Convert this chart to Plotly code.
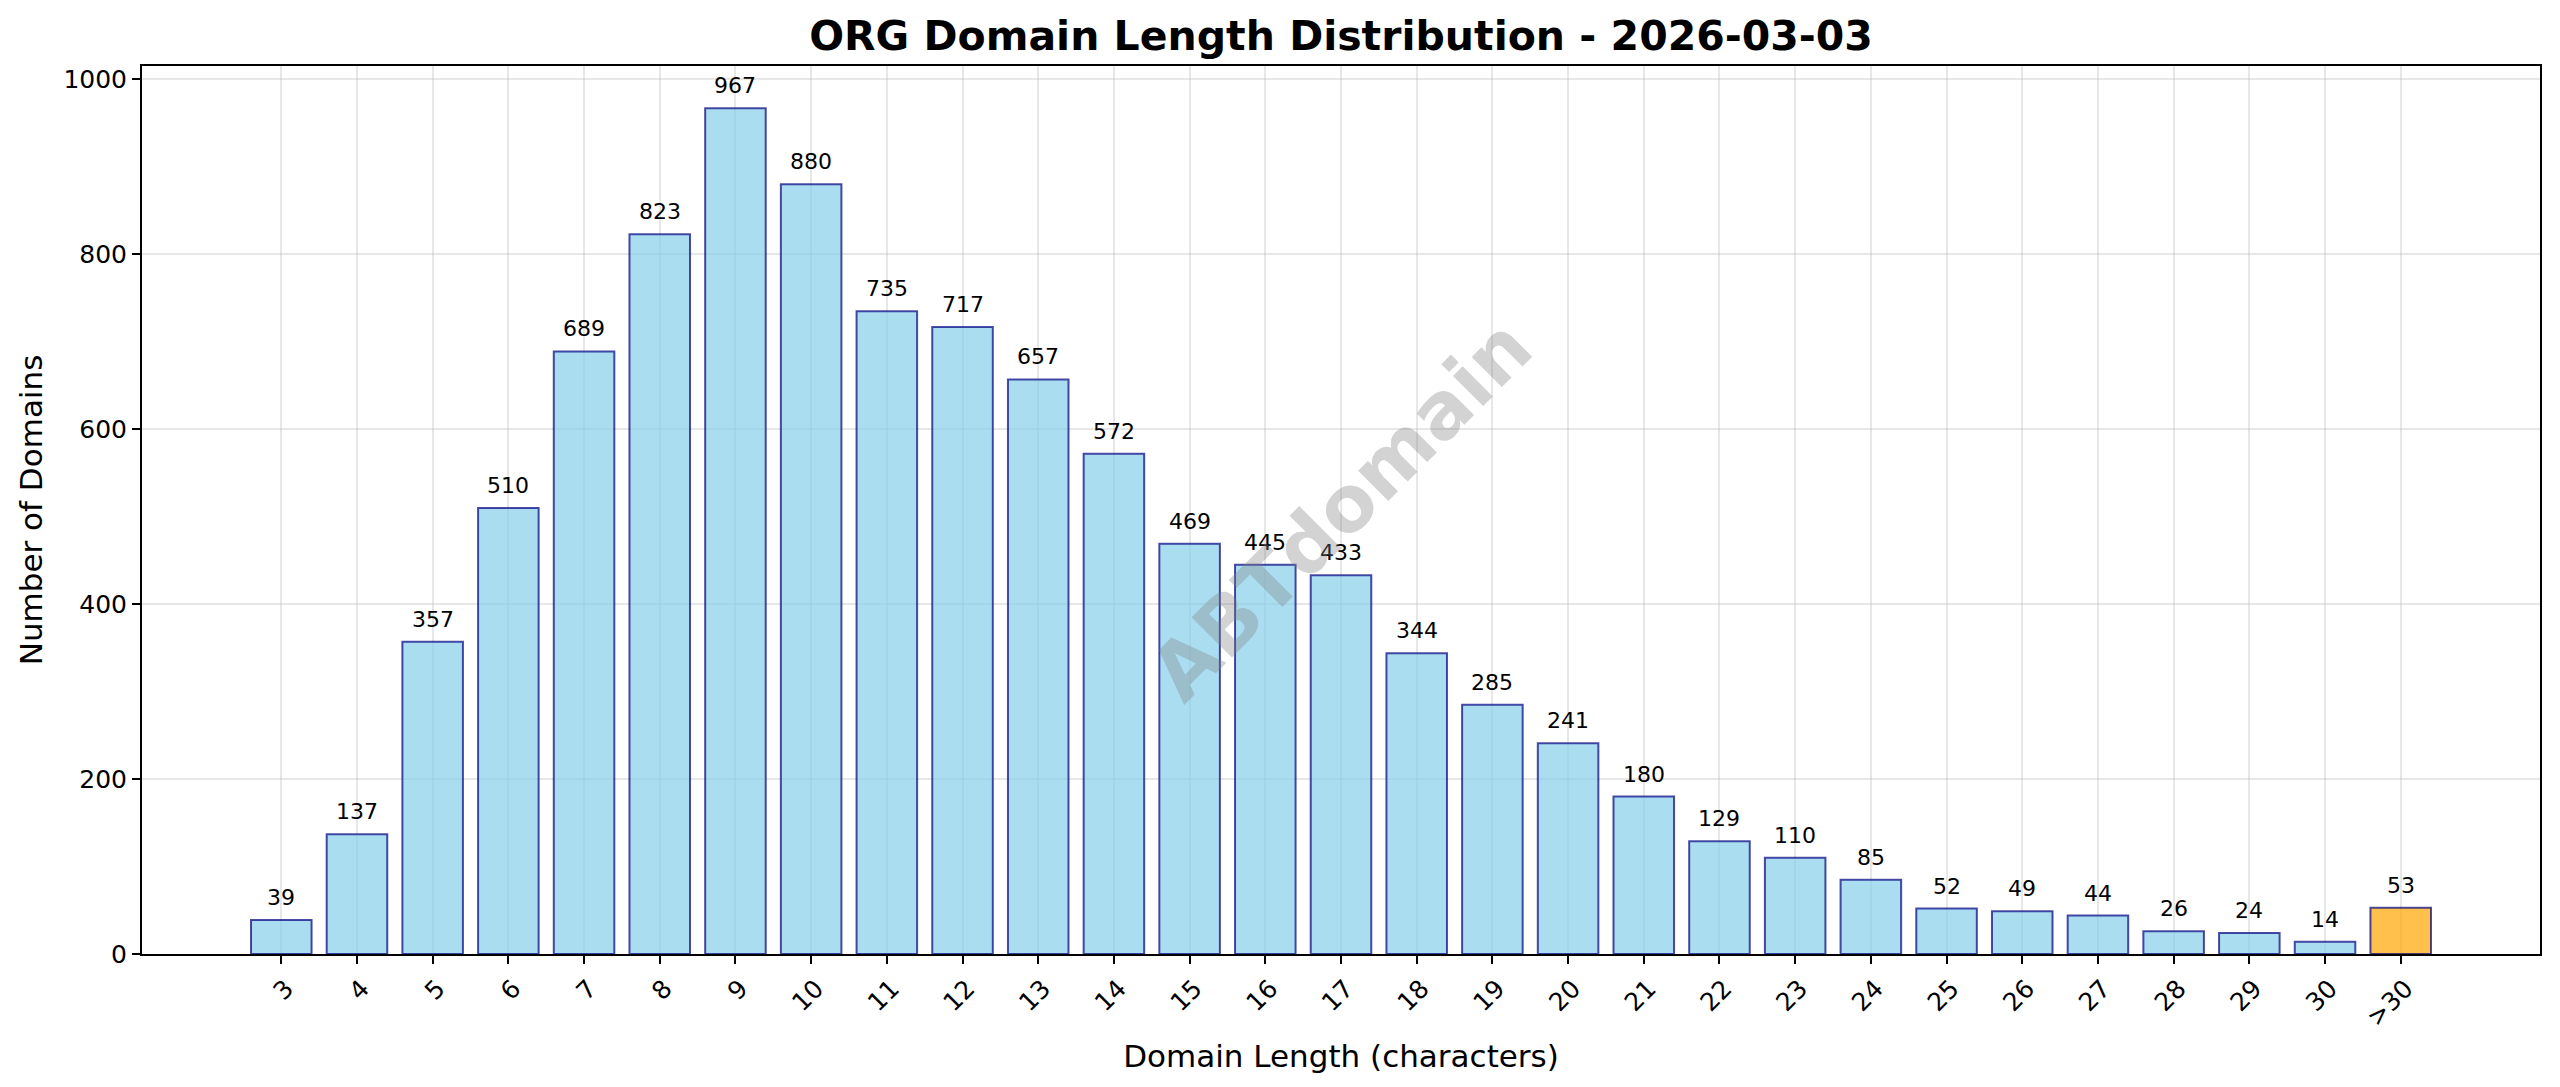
import plotly.graph_objects as go

# domain length buckets and counts
length_labels = [str(n) for n in range(3, 31)] + [">30"]
domain_counts = [39, 137, 357, 510, 689, 823, 967, 880, 735, 717, 657, 572, 469, 445,
                 433, 344, 285, 241, 180, 129, 110, 85, 52, 49, 44, 26, 24, 14, 53]
y_ticks = [0, 200, 400, 600, 800, 1000]

title_text = "ORG Domain Length Distribution - 2026-03-03"
x_title = "Domain Length (characters)"
y_title = "Number of Domains"
watermark = "ABTdomain"

FONT = "DejaVu Sans"
BLUE_FILL = "rgba(135,206,235,0.7)"
ORANGE_FILL = "rgba(255,165,0,0.7)"
EDGE = "rgba(0,0,128,0.7)"
GRID = "rgba(176,176,176,0.3)"

# page body keeps its default 8px margin, so the figure is sized to fit inside it
W, H = 2544, 1071

fills = [ORANGE_FILL if lab == ">30" else BLUE_FILL for lab in length_labels]

fig = go.Figure()
fig.add_trace(go.Bar(
    x=length_labels,
    y=domain_counts,
    marker=dict(color=fills, line=dict(color=EDGE, width=2)),
    showlegend=False,
    hoverinfo="x+y",
))

# count labels above each bar (category index positions on the x axis)
for i, val in enumerate(domain_counts):
    fig.add_annotation(
        x=i, y=val, text=str(val), showarrow=False,
        yanchor="bottom", yshift=8,
        font=dict(family=FONT, size=22, color="black"),
    )

# diagonal watermark across the middle of the axes
fig.add_annotation(
    x=0.5, y=0.5, xref="paper", yref="paper", text=watermark,
    showarrow=False, textangle=-45,
    font=dict(family=FONT, size=78, color="rgba(128,128,128,0.35)", weight="bold"),
)

n = len(length_labels)
pad = 0.05 * (n - 1 + 0.8)
fig.update_layout(
    width=W,
    height=H,
    margin=dict(l=134, r=10, t=58, b=125),
    plot_bgcolor="white",
    paper_bgcolor="white",
    bargap=0.2,
    font=dict(family=FONT, color="black"),
    title=dict(
        text=title_text, x=0.5, xref="paper", xanchor="center",
        y=1 - 28 / H, yref="container", yanchor="middle",
        font=dict(family=FONT, size=41, color="black", weight="bold"),
    ),
    xaxis=dict(
        type="category",
        categoryorder="array",
        categoryarray=length_labels,
        range=[-0.4 - pad, n - 1 + 0.4 + pad],
        tickangle=-45,
        tickfont=dict(size=25),
        ticklabelshift=5,
        ticks="outside", ticklen=8, tickwidth=2, tickcolor="black",
        showline=True, linecolor="black", linewidth=2, mirror=True,
        showgrid=True, gridcolor=GRID, gridwidth=1.5,
        title=dict(text=x_title, font=dict(size=31), standoff=14),
    ),
    yaxis=dict(
        range=[0, max(domain_counts) * 1.05],
        tickvals=y_ticks,
        tickfont=dict(size=25),
        ticks="outside", ticklen=8, tickwidth=2, tickcolor="black",
        showline=True, linecolor="black", linewidth=2, mirror=True,
        showgrid=True, gridcolor=GRID, gridwidth=1.5,
        zeroline=False,
        title=dict(text=y_title, font=dict(size=31), standoff=12),
    ),
)

fig.write_html("out.html")
